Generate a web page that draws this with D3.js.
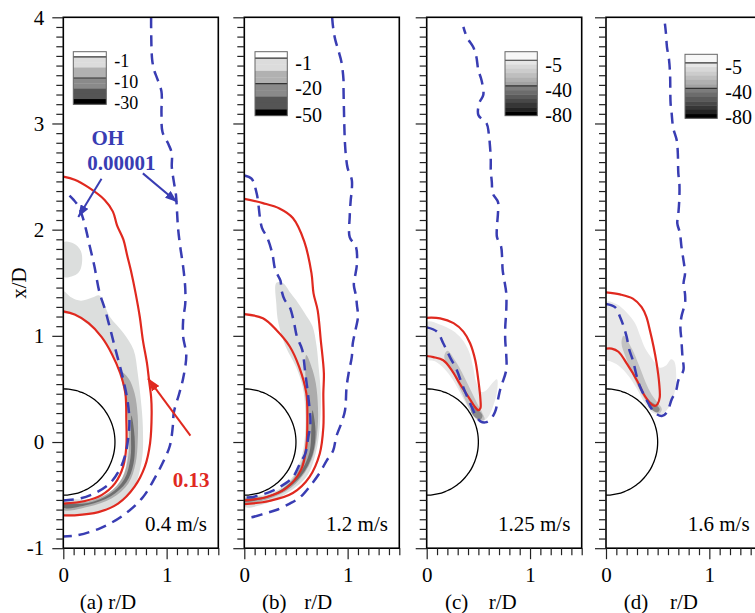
<!DOCTYPE html>
<html>
<head>
<meta charset="utf-8">
<script src="https://cdn.jsdelivr.net/npm/d3@7"></script>
<style>
  body { margin: 0; background: #fff; }
  svg { display: block; font-family: "Liberation Serif", "Times New Roman", serif; }
</style>
</head>
<body>
<svg></svg>
<script>
// ---- data (r/D, x/D) ----
const panelNames = ["(a)", "(b)", "(c)", "(d)"];
const speedLabels = ["0.4 m/s", "1.2 m/s", "1.25 m/s", "1.6 m/s"];
const yTicks = [-1, 0, 1, 2, 3, 4];
const xTicks = [0, 1];
const cylinderRadius = 0.5;

// red: 0.13 contour
const redOuterA = [[0,2.5],[0.11,2.47],[0.24,2.40],[0.40,2.28],[0.48,2.17],[0.52,2.04],[0.58,1.91],[0.62,1.75],[0.66,1.59],[0.70,1.40],[0.74,1.18],[0.77,0.96],[0.81,0.74],[0.83,0.58],[0.85,0.42],[0.855,0.27],[0.84,-0.01],[0.79,-0.23],[0.69,-0.42],[0.53,-0.58],[0.34,-0.66],[0.11,-0.69],[0,-0.69]];
const redInnerA = [[0,1.23],[0.11,1.20],[0.245,1.12],[0.37,0.99],[0.47,0.83],[0.55,0.65],[0.60,0.46],[0.61,0.21],[0.61,-0.04],[0.58,-0.23],[0.50,-0.39],[0.37,-0.50],[0.21,-0.555],[0,-0.58]];
const redOuterB = [[0,2.29],[0.18,2.25],[0.34,2.20],[0.47,2.11],[0.58,1.89],[0.65,1.59],[0.67,1.40],[0.71,1.24],[0.74,0.96],[0.77,0.65],[0.765,0.46],[0.765,0.14],[0.73,-0.11],[0.63,-0.33],[0.47,-0.48],[0.24,-0.555],[0,-0.585]];
const redInnerB = [[0,1.205],[0.18,1.165],[0.31,1.055],[0.44,0.90],[0.53,0.71],[0.60,0.46],[0.61,0.21],[0.60,-0.04],[0.55,-0.26],[0.40,-0.44],[0.21,-0.52],[0,-0.55]];
const redC = [[0,1.17],[0.13,1.165],[0.26,1.12],[0.355,1.04],[0.42,0.93],[0.47,0.77],[0.50,0.58],[0.52,0.40],[0.52,0.32],[0.50,0.30],[0.46,0.34],[0.42,0.40],[0.32,0.55],[0.24,0.68],[0.16,0.77],[0.065,0.80],[0,0.81]];
const redD = [[0,1.41],[0.135,1.39],[0.26,1.35],[0.345,1.27],[0.39,1.18],[0.425,1.05],[0.46,0.90],[0.49,0.74],[0.515,0.55],[0.52,0.42],[0.50,0.36],[0.475,0.34],[0.44,0.355],[0.40,0.40],[0.36,0.46],[0.30,0.58],[0.20,0.74],[0.12,0.85],[0.055,0.88],[0,0.88]];

// blue dashed: OH 0.00001
const blueOuterA = [[0.85,4.0],[0.85,3.9],[0.86,3.6],[0.88,3.5],[0.91,3.42],[0.95,3.3],[0.95,3.1],[0.96,2.92],[1.01,2.82],[1.05,2.72],[1.05,2.59],[1.07,2.45],[1.09,2.33],[1.10,2.18],[1.11,2.02],[1.13,1.85],[1.16,1.65],[1.18,1.45],[1.18,1.30],[1.16,1.15],[1.16,0.99],[1.19,0.82],[1.16,0.6],[1.12,0.45],[1.07,0.28],[1.06,0.15],[1.03,-0.04],[0.96,-0.2],[0.89,-0.33],[0.77,-0.52],[0.58,-0.69],[0.36,-0.81],[0.13,-0.88],[0,-0.89]];
const blueInnerA = [[0.06,2.32],[0.10,2.28],[0.14,2.23],[0.18,2.14],[0.22,2.0],[0.25,1.87],[0.30,1.66],[0.35,1.41],[0.40,1.26],[0.45,1.08],[0.50,0.89],[0.57,0.63],[0.62,0.40],[0.64,0.2],[0.63,0.05],[0.60,-0.12],[0.55,-0.25],[0.46,-0.38],[0.33,-0.47],[0.17,-0.53],[0,-0.55]];
const blueOuterB = [[0.85,4.0],[0.86,3.9],[0.88,3.79],[0.91,3.69],[0.94,3.58],[0.96,3.41],[0.96,3.34],[0.965,3.1],[0.97,2.91],[0.975,2.8],[0.985,2.68],[1.0,2.58],[1.04,2.47],[1.04,2.37],[1.03,2.28],[1.02,2.12],[1.02,1.93],[1.08,1.84],[1.09,1.68],[1.07,1.55],[1.06,1.48],[1.08,1.38],[1.09,1.29],[1.10,1.18],[1.07,1.03],[1.05,0.93],[1.04,0.80],[1.01,0.65],[0.99,0.52],[0.975,0.30],[0.94,0.18],[0.89,0.05],[0.86,-0.08],[0.80,-0.17],[0.73,-0.29],[0.64,-0.41],[0.54,-0.52],[0.44,-0.58],[0.31,-0.64],[0.21,-0.67],[0.06,-0.71],[0,-0.71]];
const blueInnerB = [[0,2.51],[0.07,2.48],[0.12,2.34],[0.17,2.02],[0.22,1.93],[0.27,1.78],[0.30,1.62],[0.35,1.52],[0.36,1.43],[0.39,1.34],[0.44,1.27],[0.48,1.13],[0.51,0.99],[0.56,0.87],[0.59,0.65],[0.62,0.42],[0.64,0.18],[0.62,0.05],[0.59,-0.11],[0.54,-0.20],[0.47,-0.33],[0.35,-0.42],[0.25,-0.47],[0.06,-0.52],[0,-0.52]];
const blueC = [[0,1.08],[0.10,1.04],[0.16,0.93],[0.225,0.80],[0.29,0.68],[0.34,0.55],[0.39,0.43],[0.435,0.33],[0.48,0.24],[0.52,0.195],[0.565,0.185],[0.61,0.205],[0.66,0.28],[0.69,0.40],[0.71,0.49],[0.73,0.55],[0.77,0.68],[0.77,0.82],[0.76,0.96],[0.76,1.08],[0.77,1.24],[0.77,1.40],[0.75,1.53],[0.735,1.62],[0.73,1.73],[0.72,1.84],[0.68,1.93],[0.68,2.03],[0.69,2.16],[0.69,2.26],[0.64,2.34],[0.63,2.45],[0.62,2.56],[0.62,2.66],[0.613,2.78],[0.60,2.91],[0.58,3.0],[0.50,3.08],[0.51,3.195],[0.548,3.27],[0.53,3.41],[0.50,3.50],[0.48,3.63],[0.45,3.72],[0.39,3.81],[0.355,3.91]];
const blueD = [[0,1.30],[0.087,1.27],[0.135,1.18],[0.17,1.09],[0.20,0.99],[0.225,0.87],[0.26,0.77],[0.30,0.61],[0.33,0.52],[0.39,0.40],[0.43,0.33],[0.48,0.27],[0.54,0.245],[0.59,0.28],[0.635,0.40],[0.68,0.49],[0.70,0.58],[0.75,0.68],[0.74,0.80],[0.73,0.96],[0.72,1.08],[0.73,1.18],[0.765,1.31],[0.765,1.39],[0.75,1.49],[0.765,1.59],[0.75,1.71],[0.73,1.84],[0.715,1.97],[0.69,2.06],[0.70,2.15],[0.71,2.30],[0.71,2.44],[0.70,2.53],[0.695,2.72],[0.685,2.84],[0.65,2.96],[0.635,3.10],[0.625,3.19],[0.62,3.46],[0.61,3.60],[0.59,3.72],[0.58,3.85],[0.57,3.94]];

// grey filled contours (light / mid / dark)
const grayLightA = [[0,1.42],[0.08,1.36],[0.17,1.33],[0.28,1.36],[0.35,1.38],[0.45,1.18],[0.58,1.03],[0.68,0.87],[0.72,0.65],[0.75,0.40],[0.77,0.14],[0.76,-0.17],[0.67,-0.45],[0.47,-0.61],[0.24,-0.67],[0,-0.69],[0,-0.55],[0.24,-0.54],[0.45,-0.47],[0.58,-0.32],[0.62,-0.05],[0.61,0.3],[0.57,0.62],[0.47,0.85],[0.36,1.01],[0.22,1.12],[0.1,1.2],[0,1.22]];
const grayBlobA = [[0,1.88],[0.1,1.87],[0.17,1.8],[0.18,1.68],[0.15,1.6],[0.08,1.56],[0,1.56]];
const grayMidA = [[0.56,0.66],[0.63,0.6],[0.69,0.46],[0.72,0.25],[0.72,0.0],[0.70,-0.2],[0.63,-0.39],[0.47,-0.53],[0.24,-0.61],[0,-0.64],[0,-0.58],[0.24,-0.56],[0.44,-0.48],[0.57,-0.34],[0.63,-0.12],[0.63,0.15],[0.6,0.42]];
const grayDarkA = [[0.66,0.25],[0.69,0.05],[0.68,-0.2],[0.61,-0.38],[0.46,-0.51],[0.24,-0.59],[0,-0.62],[0,-0.59],[0.24,-0.575],[0.45,-0.49],[0.59,-0.35],[0.65,-0.15],[0.655,0.1]];
const grayLightB = [[0.31,1.50],[0.37,1.50],[0.45,1.40],[0.52,1.31],[0.60,1.19],[0.66,1.09],[0.70,0.9],[0.72,0.7],[0.74,0.46],[0.73,0.14],[0.69,-0.11],[0.60,-0.33],[0.40,-0.49],[0.21,-0.58],[0,-0.61],[0,-0.52],[0.2,-0.5],[0.36,-0.43],[0.48,-0.31],[0.56,-0.12],[0.59,0.1],[0.59,0.3],[0.565,0.52],[0.50,0.71],[0.40,0.90],[0.33,1.12],[0.31,1.3]];
const grayMidB = [[0.60,0.82],[0.66,0.68],[0.70,0.5],[0.71,0.14],[0.65,-0.17],[0.50,-0.39],[0.28,-0.52],[0,-0.575],[0,-0.535],[0.27,-0.5],[0.45,-0.37],[0.57,-0.15],[0.61,0.1],[0.61,0.4],[0.59,0.65]];
const grayDarkB = [[0.66,0.3],[0.69,0.1],[0.66,-0.12],[0.55,-0.32],[0.38,-0.46],[0.2,-0.53],[0,-0.56],[0,-0.545],[0.2,-0.515],[0.37,-0.44],[0.53,-0.3],[0.63,-0.1],[0.65,0.15]];
const grayLightC = [[0,1.13],[0.12,1.11],[0.25,1.05],[0.34,0.97],[0.41,0.85],[0.45,0.70],[0.48,0.56],[0.53,0.47],[0.58,0.49],[0.64,0.56],[0.68,0.59],[0.68,0.47],[0.64,0.33],[0.59,0.23],[0.53,0.19],[0.47,0.22],[0.41,0.31],[0.33,0.45],[0.25,0.59],[0.17,0.69],[0.08,0.76],[0,0.78]];
const grayMidC = [[0.2,0.86],[0.28,0.76],[0.36,0.62],[0.43,0.48],[0.49,0.36],[0.54,0.27],[0.56,0.21],[0.5,0.21],[0.44,0.27],[0.37,0.4],[0.3,0.55],[0.24,0.68],[0.17,0.8]];
const grayDarkC = [[0.44,0.34],[0.50,0.30],[0.54,0.25],[0.52,0.21],[0.47,0.23],[0.43,0.29]];
const grayLightD = [[0,1.32],[0.1,1.3],[0.2,1.22],[0.28,1.12],[0.33,1.0],[0.38,0.88],[0.45,0.78],[0.52,0.7],[0.58,0.72],[0.63,0.78],[0.66,0.76],[0.68,0.62],[0.66,0.45],[0.61,0.33],[0.54,0.26],[0.46,0.27],[0.38,0.36],[0.3,0.5],[0.22,0.62],[0.12,0.72],[0.04,0.76],[0,0.77]];
const grayMidD = [[0.17,1.0],[0.25,0.88],[0.32,0.72],[0.38,0.57],[0.44,0.45],[0.5,0.37],[0.54,0.31],[0.52,0.27],[0.46,0.29],[0.39,0.38],[0.32,0.5],[0.25,0.65],[0.19,0.8],[0.15,0.93]];
const grayDarkD = [[0.42,0.38],[0.48,0.35],[0.52,0.31],[0.5,0.28],[0.45,0.3],[0.41,0.34]];

// legends
const legendLabelsA = ["-1", "-10", "-30"];
const legendLabelsB = ["-1", "-20", "-50"];
const legendLabelsC = ["-5", "-40", "-80"];
const legendLabelsD = ["-5", "-40", "-80"];
const legendColorsAB = ["#ffffff","#dcdcdc","#dcdcdc","#b1b1b1","#b1b1b1","#8a8a8a","#8a8a8a","#555555","#555555","#000000"];
const legendColorsCD = ["#f7f7f7","#f7f7f7","#e6e6e6","#d8d8d8","#cccccc","#bebebe","#b0b0b0","#a2a2a2","#7c7c7c","#6c6c6c","#5a5a5a","#484848","#363636","#222222","#000000"];

// panel (a) annotations
const ohArrows = [[[0.37,2.48],[0.145,2.12]], [[0.77,2.53],[1.10,2.26]]];
const redArrow = [[1.23,0.06],[0.82,0.60]];

// ---- layout ----
const width = 755, height = 613;
const panelLeft = [63.3, 244.3, 426.7, 606];
const panelWidth = 155, plotTop = 17.3, plotBottom = 548.2;
const red = "#e0291f", blue = "#393db3";

const svg = d3.select("svg").attr("width", width).attr("height", height);

const y = d3.scaleLinear().domain([-1, 4]).range([plotBottom, plotTop]);
const yMinor = d3.range(-1, 4, 1 / 11).filter((v, i) => i % 11 !== 0);
const xMinor = d3.range(1, 16).map((v) => v / 10).filter((v) => v !== 1);

const panels = [
    { red: [redOuterA, redInnerA], blue: [blueOuterA, blueInnerA],
      gray: [[grayLightA, grayBlobA], [grayMidA], [grayDarkA]], shades: ["#dcdedd", "#acacac", "#6e6e6e"],
      legend: { dx: 10, top: 51.7, w: 33, h: 52.6, colors: legendColorsAB, lines: [1, 5], labels: legendLabelsA, size: 18, off: 4 },
      title: [28, 59] },
    { red: [redOuterB, redInnerB], blue: [blueOuterB, blueInnerB],
      gray: [[grayLightB], [grayMidB], [grayDarkB]], shades: ["#dcdedd", "#acacac", "#6e6e6e"],
      legend: { dx: 10.7, top: 51.7, w: 32.3, h: 64, colors: legendColorsAB, lines: [1, 5], labels: legendLabelsB, size: 20, off: 4.5 },
      title: [30, 74] },
    { red: [redC], blue: [blueC],
      gray: [[grayLightC], [grayMidC], [grayDarkC]], shades: ["#e8e8e8", "#c2c2c2", "#8a8a8a"],
      legend: { dx: 78.3, top: 51.7, w: 32.3, h: 64, colors: legendColorsCD, lines: [2, 8], labels: legendLabelsC, size: 20, off: 4.5 },
      title: [30, 76] },
    { red: [redD], blue: [blueD],
      gray: [[grayLightD], [grayMidD], [grayDarkD]], shades: ["#e8e8e8", "#c2c2c2", "#8a8a8a"],
      legend: { dx: 79, top: 54.3, w: 32.3, h: 64, colors: legendColorsCD, lines: [2, 8], labels: legendLabelsD, size: 20, off: 4 },
      title: [30, 78] }
];

const defs = svg.append("defs");
const addMarker = (id, color, len, wid) => {
    defs.append("marker")
        .attr("id", id)
        .attr("markerUnits", "userSpaceOnUse")
        .attr("markerWidth", len)
        .attr("markerHeight", wid)
        .attr("refX", len)
        .attr("refY", wid / 2)
        .attr("orient", "auto")
        .append("path")
        .attr("d", `M0,0 L${len},${wid / 2} L0,${wid} Z`)
        .attr("fill", color);
};
addMarker("arrowBlue", blue, 12, 9);
addMarker("arrowRed", red, 13, 9);

const drawPanel = (p, i) => {
    const x0 = panelLeft[i];
    const x = d3.scaleLinear().domain([0, 1.5]).range([x0, x0 + panelWidth]);
    const line = d3.line().x((d) => x(d[0])).y((d) => y(d[1])).curve(d3.curveCatmullRom.alpha(0.5));
    const area = d3.line().x((d) => x(d[0])).y((d) => y(d[1])).curve(d3.curveCatmullRomClosed.alpha(0.5));

    defs.append("clipPath").attr("id", "clip" + i)
        .append("rect")
        .attr("x", x0).attr("y", plotTop)
        .attr("width", panelWidth).attr("height", plotBottom - plotTop);

    const g = svg.append("g").attr("clip-path", `url(#clip${i})`);

    p.gray.forEach((layer, k) => {
        layer.forEach((poly) => {
            g.append("path").attr("d", area(poly)).attr("fill", p.shades[k]);
        });
    });

    const circle = d3.range(-90, 90.5, 3).map((a) => [
        cylinderRadius * Math.cos((a * Math.PI) / 180),
        cylinderRadius * Math.sin((a * Math.PI) / 180)
    ]);
    g.append("path").attr("d", line(circle))
        .attr("fill", "none").attr("stroke", "#000").attr("stroke-width", 1.3);

    p.red.forEach((r) => {
        g.append("path").attr("d", line(r))
            .attr("fill", "none").attr("stroke", red).attr("stroke-width", 2.2);
    });
    p.blue.forEach((b) => {
        g.append("path").attr("d", line(b))
            .attr("fill", "none").attr("stroke", blue).attr("stroke-width", 2.5)
            .attr("stroke-dasharray", "11,7");
    });

    // frame
    svg.append("rect")
        .attr("x", x0).attr("y", plotTop)
        .attr("width", panelWidth).attr("height", plotBottom - plotTop)
        .attr("fill", "none").attr("stroke", "#000").attr("stroke-width", 1.6);

    const styleAxis = (sel) => {
        sel.select(".domain").remove();
        sel.selectAll("line").attr("stroke", "#222").attr("stroke-width", 1.2);
        sel.selectAll("text")
            .attr("font-family", "Liberation Serif, Times New Roman, serif")
            .attr("font-size", 21).attr("fill", "#000");
    };

    svg.append("g").attr("transform", `translate(${x0},0)`)
        .call(d3.axisLeft(y).tickValues(yTicks).tickSize(11).tickPadding(8)
            .tickFormat(i === 0 ? (d) => String(d) : ""))
        .call(styleAxis);
    svg.append("g").attr("transform", `translate(${x0},0)`)
        .call(d3.axisLeft(y).tickValues(yMinor).tickSize(7).tickFormat(""))
        .call(styleAxis);

    svg.append("g").attr("transform", `translate(0,${plotBottom})`)
        .call(d3.axisBottom(x).tickValues(xTicks).tickSize(11).tickPadding(8).tickFormat((d) => String(d)))
        .call(styleAxis);
    svg.append("g").attr("transform", `translate(0,${plotBottom})`)
        .call(d3.axisBottom(x).tickValues(xMinor).tickSize(7).tickFormat(""))
        .call(styleAxis);

    // legend
    const L = p.legend;
    const lx = x0 + L.dx;
    const bandH = L.h / L.colors.length;
    svg.append("g").selectAll("rect")
        .data(L.colors)
        .enter()
        .append("rect")
        .attr("x", lx).attr("y", (d, k) => L.top + k * bandH)
        .attr("width", L.w).attr("height", bandH + 0.3)
        .attr("fill", (d) => d);
    L.lines.forEach((k) => {
        svg.append("line")
            .attr("x1", lx).attr("x2", lx + L.w)
            .attr("y1", L.top + k * bandH).attr("y2", L.top + k * bandH)
            .attr("stroke", "#333").attr("stroke-width", 1.2);
    });
    svg.append("rect").attr("x", lx).attr("y", L.top)
        .attr("width", L.w).attr("height", L.h)
        .attr("fill", "none").attr("stroke", "#666").attr("stroke-width", 1);
    L.labels.forEach((t, k) => {
        const ly = k < L.lines.length ? L.top + L.lines[k] * bandH + L.off : L.top + L.h - 1;
        svg.append("text")
            .attr("x", lx + L.w + 8).attr("y", ly)
            .attr("dominant-baseline", "central")
            .attr("font-size", L.size)
            .text(t);
    });

    // speed label
    svg.append("text")
        .attr("x", x(1.39)).attr("y", y(-0.77))
        .attr("text-anchor", "end").attr("dominant-baseline", "central")
        .attr("font-size", 21)
        .text(speedLabels[i]);

    // axis title
    svg.append("text").attr("x", x0 + p.title[0]).attr("y", 609)
        .attr("text-anchor", "middle").attr("font-size", 21).text(panelNames[i]);
    svg.append("text").attr("x", x0 + p.title[1]).attr("y", 609)
        .attr("text-anchor", "middle").attr("font-size", 21).text("r/D");

    if (i === 0) {
        ohArrows.forEach((a) => {
            svg.append("line")
                .attr("x1", x(a[0][0])).attr("y1", y(a[0][1]))
                .attr("x2", x(a[1][0])).attr("y2", y(a[1][1]))
                .attr("stroke", blue).attr("stroke-width", 2)
                .attr("marker-end", "url(#arrowBlue)");
        });
        svg.append("line")
            .attr("x1", x(redArrow[0][0])).attr("y1", y(redArrow[0][1]))
            .attr("x2", x(redArrow[1][0])).attr("y2", y(redArrow[1][1]))
            .attr("stroke", red).attr("stroke-width", 2)
            .attr("marker-end", "url(#arrowRed)");
        svg.append("text").attr("x", x(0.43)).attr("y", y(2.86))
            .attr("text-anchor", "middle").attr("dominant-baseline", "central")
            .attr("font-size", 21).attr("font-weight", "bold").attr("fill", blue)
            .text("OH");
        svg.append("text").attr("x", x(0.563)).attr("y", y(2.63))
            .attr("text-anchor", "middle").attr("dominant-baseline", "central")
            .attr("font-size", 21).attr("font-weight", "bold").attr("fill", blue)
            .text("0.00001");
        svg.append("text").attr("x", x(1.236)).attr("y", y(-0.36))
            .attr("text-anchor", "middle").attr("dominant-baseline", "central")
            .attr("font-size", 21).attr("font-weight", "bold").attr("fill", red)
            .text("0.13");
    }
};

panels.forEach(drawPanel);

svg.append("text")
    .attr("transform", "translate(19,283) rotate(-90)")
    .attr("text-anchor", "middle")
    .attr("dominant-baseline", "central")
    .attr("font-size", 21)
    .text("x/D");
</script>
</body>
</html>
